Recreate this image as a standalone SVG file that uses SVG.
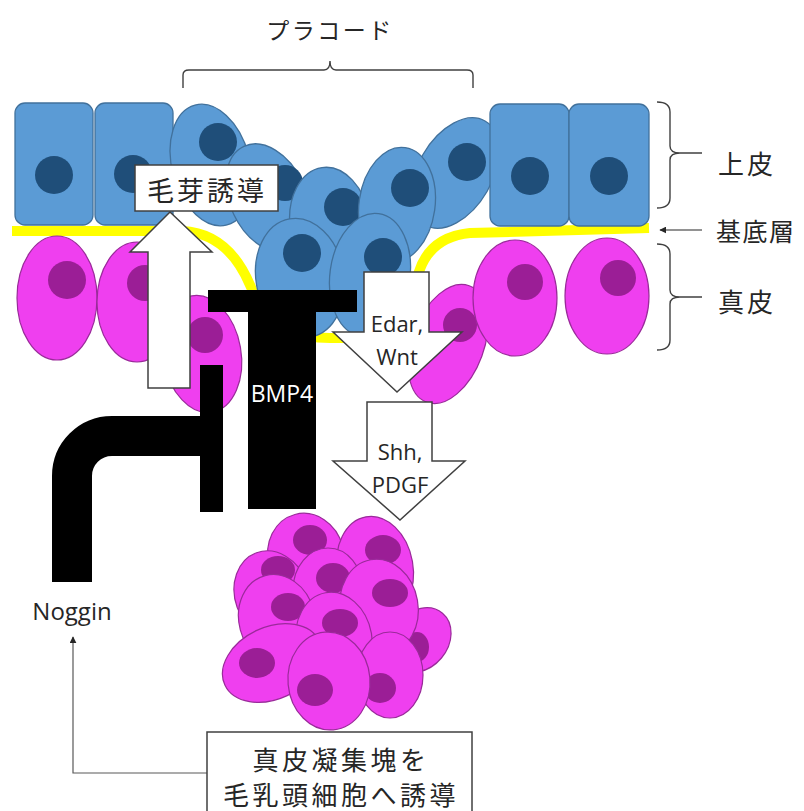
<svg xmlns="http://www.w3.org/2000/svg" width="804" height="811" viewBox="0 0 804 811">
  <style>
    .epi { fill: #5b9bd5; stroke: #41719c; stroke-width: 1.3; }
    .epi-n { fill: #1f4e79; }
    .der { fill: #ef3fef; stroke: #9a2a9a; stroke-width: 1.2; }
    .der-n { fill: #9b1e96; }
    .sig { fill: #ffffff; stroke: #404040; stroke-width: 1.5; }
    .blk { fill: #000000; }
    .brace { fill: none; stroke: #404040; stroke-width: 1.4; }
    .jp { font-family: "Noto Sans CJK JP", "Noto Sans", sans-serif; fill: #262626; dominant-baseline: central; }
    .lat { font-family: "Open Sans", "Noto Sans", sans-serif; fill: #262626; }
  </style>
  <defs>
    <marker id="tri" viewBox="0 0 10 10" refX="9" refY="5" markerWidth="7" markerHeight="7" orient="auto-start-reverse" markerUnits="userSpaceOnUse">
      <path d="M0,0 L10,5 L0,10 Z" fill="#262626"/>
    </marker>
  </defs>

  <rect width="804" height="811" fill="#ffffff"/>

  <!-- basement membrane -->
  <path id="basement" d="M12,231 H182 Q228,233 250,285 Q272,338 330,338 H372 Q410,338 415,292 Q420,238 470,233 L649,228" fill="none" stroke="#ffff00" stroke-width="10"/>

  <!-- dermis -->
  <g id="dermis">
    <ellipse class="der" cx="57" cy="298" rx="40" ry="62"/>
    <circle class="der-n" cx="67" cy="280" r="19"/>
    <ellipse class="der" cx="137" cy="302" rx="40" ry="60"/>
    <circle class="der-n" cx="145" cy="283" r="18"/>
    <ellipse class="der" cx="202" cy="354" rx="39" ry="59" transform="rotate(-10 202 354)"/>
    <circle class="der-n" cx="205" cy="335" r="18"/>
    <ellipse class="der" cx="448" cy="344" rx="36" ry="62" transform="rotate(20 448 344)"/>
    <circle class="der-n" cx="460" cy="325" r="17"/>
    <ellipse class="der" cx="515" cy="298" rx="42" ry="58"/>
    <circle class="der-n" cx="525" cy="282" r="18"/>
    <ellipse class="der" cx="607" cy="296" rx="42" ry="58"/>
    <circle class="der-n" cx="618" cy="278" r="18"/>
  </g>

  <!-- epidermis -->
  <g id="epidermis">
    <rect class="epi" x="15" y="103" width="78" height="122" rx="10"/>
    <circle class="epi-n" cx="54" cy="175" r="19"/>
    <rect class="epi" x="95" y="103" width="78" height="122" rx="10"/>
    <circle class="epi-n" cx="133" cy="174" r="19"/>
  </g>

  <!-- placode -->
  <g id="placode">
    <ellipse class="epi" cx="211" cy="165" rx="39" ry="62" transform="rotate(-15 211 165)"/>
    <circle class="epi-n" cx="218" cy="142" r="19"/>
    <ellipse class="epi" cx="268" cy="198" rx="38" ry="57" transform="rotate(-25 268 198)"/>
    <circle class="epi-n" cx="285" cy="183" r="18"/>
    <ellipse class="epi" cx="455" cy="173" rx="37" ry="60" transform="rotate(30 455 173)"/>
    <circle class="epi-n" cx="467" cy="162" r="19"/>
    <ellipse class="epi" cx="330" cy="224" rx="40" ry="57" transform="rotate(-8 330 224)"/>
    <circle class="epi-n" cx="343" cy="207" r="19"/>
    <ellipse class="epi" cx="397" cy="205" rx="38" ry="58" transform="rotate(8 397 205)"/>
    <circle class="epi-n" cx="410" cy="188" r="19"/>
    <ellipse class="epi" cx="300" cy="278" rx="44" ry="60" transform="rotate(-10 300 278)"/>
    <circle class="epi-n" cx="302" cy="253" r="19"/>
    <ellipse class="epi" cx="370" cy="275" rx="40" ry="62" transform="rotate(8 370 275)"/>
    <circle class="epi-n" cx="383" cy="257" r="19"/>
  </g>

  <g id="epidermis-right">
    <rect class="epi" x="490" y="104" width="79" height="122" rx="10"/>
    <circle class="epi-n" cx="530" cy="176" r="19"/>
    <rect class="epi" x="569" y="104" width="80" height="122" rx="10"/>
    <circle class="epi-n" cx="609" cy="176" r="19"/>
  </g>

  <!-- dermal condensate -->
  <g id="condensate">
    <ellipse class="der" cx="306" cy="556" rx="38" ry="43" transform="rotate(-15 306 556)"/>
    <ellipse class="der-n" cx="310" cy="540" rx="17" ry="15"/>
    <ellipse class="der" cx="375" cy="568" rx="38" ry="52" transform="rotate(-10 375 568)"/>
    <ellipse class="der-n" cx="383" cy="550" rx="18" ry="15"/>
    <ellipse class="der" cx="272" cy="595" rx="37" ry="45" transform="rotate(-20 272 595)"/>
    <ellipse class="der-n" cx="278" cy="570" rx="17" ry="14"/>
    <ellipse class="der" cx="328" cy="590" rx="35" ry="42"/>
    <ellipse class="der-n" cx="333" cy="578" rx="17" ry="15"/>
    <ellipse class="der" cx="420" cy="640" rx="28" ry="35" transform="rotate(40 420 640)"/>
    <ellipse class="der-n" cx="417" cy="647" rx="12" ry="15"/>
    <ellipse class="der" cx="379" cy="607" rx="39" ry="48" transform="rotate(-10 379 607)"/>
    <ellipse class="der-n" cx="390" cy="593" rx="18" ry="14"/>
    <ellipse class="der" cx="277" cy="620" rx="38" ry="46" transform="rotate(-15 277 620)"/>
    <ellipse class="der-n" cx="288" cy="607" rx="17" ry="14"/>
    <ellipse class="der" cx="334" cy="640" rx="38" ry="48" transform="rotate(-10 334 640)"/>
    <ellipse class="der-n" cx="340" cy="623" rx="18" ry="14"/>
    <ellipse class="der" cx="390" cy="675" rx="33" ry="43"/>
    <ellipse class="der-n" cx="380" cy="688" rx="16" ry="15"/>
    <ellipse class="der" cx="272" cy="663" rx="52" ry="36" transform="rotate(-25 272 663)"/>
    <ellipse class="der-n" cx="257" cy="663" rx="18" ry="15"/>
    <ellipse class="der" cx="329" cy="681" rx="41" ry="49" transform="rotate(-5 329 681)"/>
    <ellipse class="der-n" cx="315" cy="690" rx="18" ry="16"/>
  </g>

  <!-- signalling -->
  <g id="connectors">
    <path id="bud-arrow" class="sig" d="M148,388 V252 H130 L170,212 L212,252 H190 V388 Z"/>
    <path id="edar-arrow" class="sig" d="M364,272 H429 V332 H462 L397,392 L333,332 H364 Z"/>
    <path id="shh-arrow" class="sig" d="M367,402 H432 V461 H465 L400,520 L333,461 H367 Z"/>
    <path id="bmp4-bar" class="blk" d="M208,290 H357 V312 H316 V509 H248 V312 H208 Z"/>
    <rect id="noggin-block" class="blk" x="200" y="365" width="23" height="147"/>
    <path id="noggin-arm" d="M212,436 H112 A40,40 0 0 0 72,476 V582" fill="none" stroke="#000" stroke-width="40"/>
    <path id="feedback" d="M207,773 H73 V637" fill="none" stroke="#595959" stroke-width="1.2" marker-end="url(#tri)"/>
    <path id="basal-pointer" d="M702,230 H660" fill="none" stroke="#262626" stroke-width="1.2" marker-end="url(#tri)"/>
  </g>

  <!-- labels on signals -->
  <g id="bud-label">
    <rect x="135" y="165" width="143" height="46" fill="#ffffff" stroke="#404040" stroke-width="1.5"/>
    <text class="jp" x="207" y="189" font-size="27" letter-spacing="3" text-anchor="middle">毛芽誘導</text>
  </g>
  <text class="lat" x="397" y="332" font-size="22" text-anchor="middle">Edar,</text>
  <text class="lat" x="397" y="365" font-size="22" text-anchor="middle">Wnt</text>
  <text class="lat" x="400" y="460" font-size="22" text-anchor="middle">Shh,</text>
  <text class="lat" x="400" y="493" font-size="22" text-anchor="middle">PDGF</text>
  <text x="282" y="402" font-family="Open Sans, Noto Sans, sans-serif" font-size="23" fill="#ffffff" text-anchor="middle">BMP4</text>
  <text class="lat" x="72" y="620" font-size="24" text-anchor="middle">Noggin</text>

  <!-- placode bracket -->
  <g id="placode-label">
    <path class="brace" stroke="#808080" d="M183,88 V75 Q183,70 189,70 H324 Q330,70 330,61 Q330,70 336,70 H467 Q473,70 473,75 V88"/>
    <text class="jp" x="330" y="29" font-size="23" letter-spacing="2.5" text-anchor="middle">プラコード</text>
  </g>

  <!-- layer labels -->
  <g id="epidermis-label">
    <path class="brace" d="M657,102 Q670,102 670,112 V146 Q670,153 680,153 H702 M680,153 Q670,153 670,160 V198 Q670,208 657,208"/>
    <text class="jp" x="718" y="162" font-size="26" letter-spacing="3">上皮</text>
  </g>
  <g id="basal-label">
    <text class="jp" x="716" y="230" font-size="25" letter-spacing="1.5">基底層</text>
  </g>
  <g id="dermis-label">
    <path class="brace" d="M657,244 Q670,244 670,254 V290 Q670,297 680,297 H702 M680,297 Q670,297 670,304 V340 Q670,350 657,350"/>
    <text class="jp" x="718" y="300" font-size="26" letter-spacing="3">真皮</text>
  </g>

  <!-- bottom note -->
  <g id="note">
    <rect x="207" y="732" width="265" height="100" fill="#ffffff" stroke="#404040" stroke-width="1.5"/>
    <text class="jp" x="341" y="758" font-size="26" letter-spacing="3.5" text-anchor="middle">真皮凝集塊を</text>
    <text class="jp" x="341" y="793" font-size="26" letter-spacing="3.5" text-anchor="middle">毛乳頭細胞へ誘導</text>
  </g>
</svg>
